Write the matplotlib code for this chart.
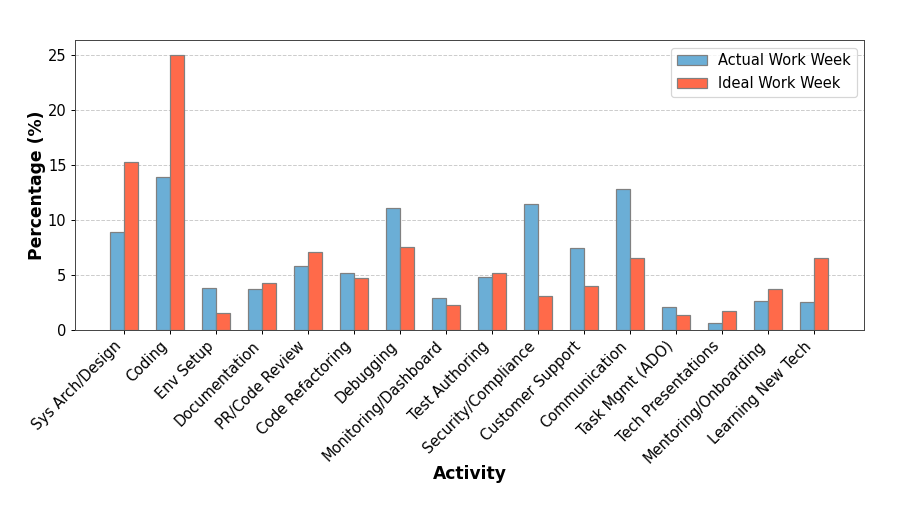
import numpy as np
import matplotlib
matplotlib.use("Agg")
import matplotlib.pyplot as plt

activities = ['Sys Arch/Design', 'Coding', 'Env Setup', 'Documentation', 'PR/Code Review',
              'Code Refactoring', 'Debugging', 'Monitoring/Dashboard', 'Test Authoring',
              'Security/Compliance', 'Customer Support', 'Communication', 'Task Mgmt (ADO)',
              'Tech Presentations', 'Mentoring/Onboarding', 'Learning New Tech']
actual = [8.9, 13.85, 3.8, 3.7, 5.85, 5.2, 11.1, 2.95, 4.8, 11.4, 7.43, 12.83, 2.08, 0.63, 2.6, 2.55]
ideal = [15.25, 25.0, 1.57, 4.23, 7.1, 4.75, 7.5, 2.23, 5.2, 3.08, 3.99, 6.58, 1.36, 1.69, 3.71, 6.55]

x = np.arange(len(activities))
width = 0.3

fig = plt.figure(figsize=(924/88, 518/88), dpi=88)
ax = fig.add_axes([75/924, 1-330/518, (864.3-75)/924, (330-40.3)/518])

ax.bar(x - width/2, actual, width, label='Actual Work Week', color='#6baed6',
       edgecolor='grey', linewidth=1, zorder=3)
ax.bar(x + width/2, ideal, width, label='Ideal Work Week', color='#ff6a4a',
       edgecolor='grey', linewidth=1, zorder=3)

ax.set_xticks(x)
ax.set_xticklabels(activities, rotation=45, ha='right', fontsize=12)
ax.tick_params(axis='y', labelsize=12)
ax.set_xlim(-1.07, 16.09)
ax.set_ylim(0, 26.3)
ax.set_yticks([0, 5, 10, 15, 20, 25])
ax.yaxis.grid(True, linestyle='--', color='#cccccc', linewidth=0.8, zorder=0)
ax.set_axisbelow(True)
for s in ax.spines.values():
    s.set_color('#444444')

ax.set_xlabel('Activity', fontsize=14, fontweight='bold', labelpad=-1)
ax.set_ylabel('Percentage (%)', fontsize=14, fontweight='bold', labelpad=1)
ax.legend(loc='upper right', fontsize=12)

fig.savefig('out.png', dpi=88)
